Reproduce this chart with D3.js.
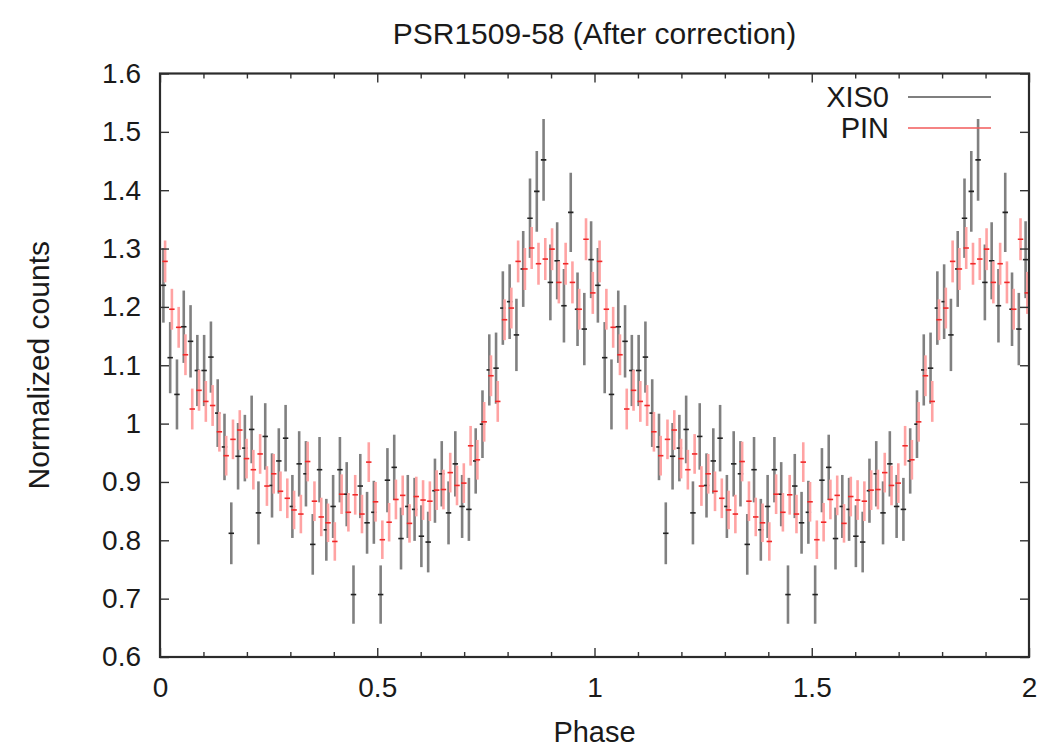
<!DOCTYPE html>
<html>
<head>
<meta charset="utf-8">
<script src="https://cdnjs.cloudflare.com/ajax/libs/d3/7.8.5/d3.min.js"></script>
<style>
  body { margin: 0; background: #fff; }
  text { font-family: "Liberation Sans", Arial, sans-serif; fill: #1a1a1a; }
</style>
</head>
<body>
<script>
const w = 1042;
const h = 748;

// one pulse cycle, 64 phase bins; the plot repeats it twice
const nBins = 64;
const cycles = [0, 1];

// XIS0 normalized counts and 1-sigma errors
const xisCounts = [
  1.237, 1.113, 1.050, 1.166, 1.141, 1.091, 1.091, 1.114,
  1.018, 0.960, 0.812, 0.944, 0.958, 0.990, 0.847, 0.978,
  0.894, 0.936, 0.975, 0.858, 0.931, 0.914, 0.793, 0.921,
  0.818, 0.858, 0.921, 0.879, 0.707, 0.893, 0.830, 0.848,
  0.707, 0.903, 0.925, 0.803, 0.858, 0.853, 0.807, 0.797,
  0.885, 0.914, 0.847, 0.931, 0.858, 0.853, 0.936, 0.999,
  1.092, 1.095, 1.198, 1.209, 1.152, 1.265, 1.352, 1.398,
  1.452, 1.242, 1.279, 1.202, 1.362, 1.196, 1.162, 1.281
];
const xisErr = [
  0.064, 0.061, 0.060, 0.062, 0.062, 0.061, 0.061, 0.061,
  0.058, 0.057, 0.053, 0.057, 0.057, 0.058, 0.054, 0.057,
  0.055, 0.056, 0.057, 0.054, 0.056, 0.056, 0.052, 0.056,
  0.053, 0.054, 0.056, 0.055, 0.050, 0.055, 0.053, 0.054,
  0.050, 0.055, 0.056, 0.053, 0.054, 0.054, 0.053, 0.052,
  0.055, 0.056, 0.054, 0.056, 0.054, 0.054, 0.056, 0.058,
  0.061, 0.061, 0.063, 0.064, 0.062, 0.065, 0.068, 0.069,
  0.070, 0.065, 0.066, 0.063, 0.068, 0.063, 0.062, 0.066
];

// PIN normalized counts and errors
const pinCounts = [
  1.278, 1.196, 1.165, 1.118, 1.025, 1.057, 1.038, 1.031,
  0.986, 0.945, 0.973, 0.989, 0.940, 0.921, 0.948, 0.893,
  0.914, 0.884, 0.872, 0.852, 0.845, 0.935, 0.867, 0.840,
  0.830, 0.798, 0.879, 0.848, 0.878, 0.845, 0.934, 0.866,
  0.801, 0.831, 0.870, 0.877, 0.829, 0.875, 0.869, 0.867,
  0.886, 0.887, 0.916, 0.894, 0.898, 0.962, 0.938, 1.003,
  1.082, 1.038, 1.178, 1.198, 1.278, 1.265, 1.301, 1.274,
  1.282, 1.299, 1.242, 1.274, 1.242, 1.196, 1.316, 1.224
];
const pinErr = [
  0.036, 0.035, 0.035, 0.035, 0.035, 0.035, 0.035, 0.035,
  0.034, 0.034, 0.034, 0.034, 0.034, 0.034, 0.034, 0.034,
  0.034, 0.034, 0.034, 0.033, 0.033, 0.034, 0.034, 0.033,
  0.033, 0.033, 0.034, 0.033, 0.034, 0.033, 0.034, 0.034,
  0.033, 0.033, 0.034, 0.034, 0.033, 0.034, 0.034, 0.034,
  0.034, 0.034, 0.034, 0.034, 0.034, 0.034, 0.034, 0.034,
  0.035, 0.035, 0.035, 0.035, 0.036, 0.036, 0.036, 0.036,
  0.036, 0.036, 0.036, 0.036, 0.036, 0.035, 0.036, 0.036
];

const xLabelTicks = [0, 0.5, 1, 1.5, 2];
const xMinorTicks = d3.range(0, 2.001, 0.1);
const yTicks = [0.6, 0.7, 0.8, 0.9, 1, 1.1, 1.2, 1.3, 1.4, 1.5, 1.6];
const seriesNames = ["XIS0", "PIN"];
const seriesBar = {"XIS0": "#808080", "PIN": "#ffa3a3"};
const seriesMark = {"XIS0": "#222", "PIN": "#f02828"};

var dataset = [];
cycles.forEach(function(c) {
  xisCounts.forEach(function(v, i) {
    dataset.push({series: "XIS0", phase: c + (i + 0.5) / nBins, value: v, err: xisErr[i]});
  });
});
cycles.forEach(function(c) {
  pinCounts.forEach(function(v, i) {
    dataset.push({series: "PIN", phase: c + (i + 0.75) / nBins, value: v, err: pinErr[i]});
  });
});

var svg = d3.select("body")
  .append("svg")
  .attr("width", w)
  .attr("height", h);

var x = d3.scaleLinear()
  .domain([0, 2])
  .range([160, 1029]);

var y = d3.scaleLinear()
  .domain([0.6, 1.6])
  .range([657, 73.5]);

var halfBin = 0.5 / nBins;

// clip so nothing spills out of the frame
svg.append("clipPath")
  .attr("id", "plotclip")
  .append("rect")
  .attr("x", x(0))
  .attr("y", y(1.6))
  .attr("width", x(2) - x(0))
  .attr("height", y(0.6) - y(1.6));

var plot = svg.append("g").attr("clip-path", "url(#plotclip)");

seriesNames.forEach(function(name) {
  var rows = dataset.filter(function(d) { return d.series == name; });
  var g = plot.append("g").attr("class", "series");

  g.selectAll("line.ebar")
    .data(rows)
    .enter()
    .append("line")
    .attr("class", "ebar")
    .attr("x1", function(d) { return x(d.phase); })
    .attr("x2", function(d) { return x(d.phase); })
    .attr("y1", function(d) { return y(d.value - d.err); })
    .attr("y2", function(d) { return y(d.value + d.err); })
    .style("stroke", seriesBar[name])
    .style("stroke-width", 2.6);

  g.selectAll("line.xbar")
    .data(rows)
    .enter()
    .append("line")
    .attr("class", "xbar")
    .attr("x1", function(d) { return x(d.phase - halfBin * 0.8); })
    .attr("x2", function(d) { return x(d.phase + halfBin * 0.8); })
    .attr("y1", function(d) { return y(d.value); })
    .attr("y2", function(d) { return y(d.value); })
    .style("stroke", seriesMark[name])
    .style("stroke-width", 1.6);
});

// axes, ticks pointing inward on all four sides
function tickLen(d) {
  return Math.abs(d * 2 - Math.round(d * 2)) < 1e-6 ? 9 : 5;
}

var xBottom = svg.append("g")
  .attr("transform", "translate(0," + y(0.6) + ")")
  .call(d3.axisBottom(x)
    .tickValues(xMinorTicks)
    .tickSizeInner(0)
    .tickSizeOuter(0)
    .tickPadding(20)
    .tickFormat(function(d) {
      return xLabelTicks.some(function(t) { return Math.abs(t - d) < 1e-6; }) ? d3.format("")(+d.toFixed(1)) : "";
    }));
xBottom.selectAll(".tick line").attr("y2", function(d) { return -tickLen(d); });

var xTop = svg.append("g")
  .attr("transform", "translate(0," + y(1.6) + ")")
  .call(d3.axisTop(x).tickValues(xMinorTicks).tickSizeOuter(0).tickFormat(""));
xTop.selectAll(".tick line").attr("y2", function(d) { return tickLen(d); });

var yLeft = svg.append("g")
  .attr("transform", "translate(" + x(0) + ",0)")
  .call(d3.axisLeft(y)
    .tickValues(yTicks)
    .tickSizeInner(-9)
    .tickSizeOuter(0)
    .tickPadding(19)
    .tickFormat(d3.format("")));

var yRight = svg.append("g")
  .attr("transform", "translate(" + x(2) + ",0)")
  .call(d3.axisRight(y).tickValues(yTicks).tickSizeInner(-9).tickSizeOuter(0).tickFormat(""));

svg.selectAll(".domain").remove();
svg.selectAll(".tick line").style("stroke", "#333").style("stroke-width", 1.4);
svg.selectAll(".tick text")
  .style("font-size", "28px")
  .style("font-family", "'Liberation Sans', Arial, sans-serif")
  .style("fill", "#1a1a1a");

// frame
svg.append("rect")
  .attr("x", x(0))
  .attr("y", y(1.6))
  .attr("width", x(2) - x(0))
  .attr("height", y(0.6) - y(1.6))
  .style("fill", "none")
  .style("stroke", "#2b2b2b")
  .style("stroke-width", 2.2);

// title and axis labels
svg.append("text")
  .attr("x", (x(0) + x(2)) / 2)
  .attr("y", 44)
  .attr("text-anchor", "middle")
  .style("font-size", "30px")
  .text("PSR1509-58 (After correction)");

svg.append("text")
  .attr("x", (x(0) + x(2)) / 2)
  .attr("y", 742)
  .attr("text-anchor", "middle")
  .style("font-size", "29px")
  .text("Phase");

svg.append("text")
  .attr("transform", "translate(49," + (y(0.6) + y(1.6)) / 2 + ") rotate(-90)")
  .attr("text-anchor", "middle")
  .style("font-size", "30px")
  .text("Normalized counts");

// legend
var legend = svg.append("g").attr("class", "legend");
seriesNames.forEach(function(name, i) {
  var ly = 97 + i * 31;
  legend.append("text")
    .attr("x", 889)
    .attr("y", ly)
    .attr("dy", "0.35em")
    .attr("text-anchor", "end")
    .style("font-size", "29px")
    .text(name);
  legend.append("line")
    .attr("x1", 908)
    .attr("x2", 991)
    .attr("y1", ly)
    .attr("y2", ly)
    .style("stroke", name == "XIS0" ? "#555" : "#f25a5a")
    .style("stroke-width", 1.6);
});
</script>
</body>
</html>
